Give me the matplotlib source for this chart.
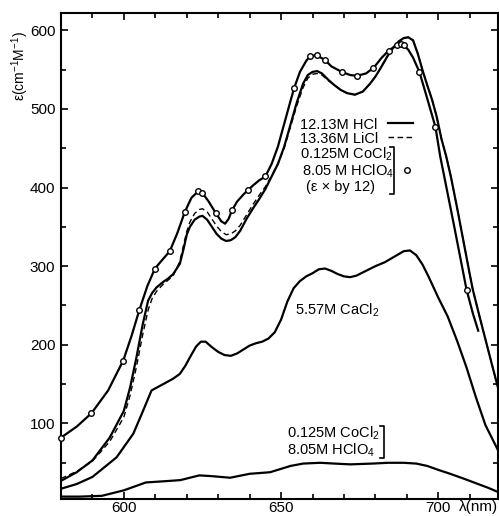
import numpy as np
import matplotlib
matplotlib.use('Agg')
import matplotlib.pyplot as plt
from matplotlib.ticker import MultipleLocator

plt.rcParams['font.family'] = ['Liberation Sans', 'DejaVu Sans']
plt.rcParams['mathtext.fontset'] = 'custom'
plt.rcParams['mathtext.rm'] = 'Liberation Sans'
plt.rcParams['mathtext.it'] = 'Liberation Sans:italic'
plt.rcParams['mathtext.bf'] = 'Liberation Sans:bold'

# 12.13 M HCl (solid)
hcl_x = [580, 585, 590, 595.5, 600, 602, 604, 606, 607.7, 609, 610.4, 612.5, 614, 615.7,
         617.8, 619, 620, 621, 622.5, 624, 625, 626.5, 628, 629.5, 631, 632.5, 634, 635.5,
         637, 639, 641, 643, 645, 647, 649, 651, 653, 655, 657, 658.5, 660, 661.5, 663,
         665, 667, 669, 671, 673.5, 676, 678.3, 680, 681.7, 683.7, 685.5, 687.5, 689,
         690.5, 692, 693.5, 695, 696.5, 698, 699.5, 701, 702.5, 704, 706, 708, 710, 711,
         713, 715, 717, 719.5]
hcl_y = [27, 38, 53, 82, 116, 146, 184, 226, 256, 266, 273, 280, 284, 290,
         303, 322, 340, 350, 359, 363, 364, 359, 350, 341, 335, 332, 333, 337,
         345, 360, 373, 385, 398, 414, 430, 452, 480, 508, 532, 543, 547, 548, 545,
         537, 530, 524, 520, 518, 522, 532, 541, 552, 566, 577, 586, 590,
         591, 587, 570, 549, 530, 512, 490, 462, 440, 414, 374, 332, 290, 270,
         238, 207, 176, 138]

# 13.36 M LiCl (dashed)
licl_x = [580, 585, 590, 595.5, 600, 602, 604, 606, 607.7, 609, 610.4, 612.5, 614, 615.7,
          617.8, 619, 620, 621, 622.5, 624, 625, 626.5, 628, 629.5, 631, 632.5, 634, 635.5,
          637, 639, 641, 643, 645, 647, 649, 651, 653, 655, 657, 658.5, 660, 661.5, 663,
          665, 667, 669, 671, 673.5, 676, 678.3, 680, 681.7, 683.7, 685.5, 687.5, 689,
          690.5, 692, 693.5, 695, 696.5, 698, 699.5, 701, 702.5, 704, 706, 708, 710, 711,
          713, 715, 717, 719.5]
licl_y = [30, 39, 52, 77, 108, 136, 172, 213, 244, 259, 268, 277, 282, 288,
          306, 327, 344, 356, 367, 372, 373, 369, 360, 351, 344, 340, 341, 345,
          352, 365, 378, 390, 401, 415, 430, 450, 477, 504, 527, 539, 544, 545, 543,
          536, 530, 524, 520, 518, 522, 532, 541, 552, 566, 577, 586, 590,
          591, 587, 570, 549, 530, 512, 490, 462, 440, 414, 374, 332, 290, 270,
          238, 207, 176, 138]

# 0.125 M CoCl2 in 8.05 M HClO4, eps x 12 (curve + measured points)
co12_x = [580, 585, 589.7, 595, 599.8, 602.5, 604.9, 607.5, 609.9, 612, 614.6, 617, 619.4,
          621.5, 623.6, 625, 627, 629.3, 631, 632.2, 633.3, 634.4, 636, 638, 639.5, 641.5,
          643, 645, 647, 649, 651, 653, 654.2, 656, 658, 659.2, 661.4, 664, 666, 669.3,
          672, 674.1, 677, 679.4, 682, 684.2, 686.8, 688, 689, 690.5, 692, 694, 696.5,
          699.1, 700.6, 702.5, 705, 707, 709, 711, 712.7]
co12_y = [82, 96, 113, 142, 180, 212, 244, 275, 297, 307, 319, 342, 369,
          387, 395, 393, 382, 367, 357, 354, 360, 371, 382, 391, 397, 404,
          409, 414, 430, 452, 481, 510, 527, 547, 561, 567, 568, 562, 554, 547,
          543, 542, 545, 552, 565, 574, 581, 582, 581, 575, 565, 547, 513,
          477, 440, 402, 352, 311, 270, 240, 218]
pts_x = [580, 589.7, 599.8, 604.9, 609.9, 614.6, 619.4, 623.6, 625, 629.3, 634.4, 639.5,
         645, 654.2, 659.2, 661.4, 664, 669.3, 674.1, 679.4, 684.2, 686.8, 688, 689,
         694, 699.1, 709]
pts_y = [82, 113, 180, 244, 297, 319, 369, 395, 393, 367, 371, 397,
         414, 527, 567, 568, 562, 547, 542, 552, 574, 581, 582, 581,
         547, 477, 270]

# 5.57 M CaCl2
cacl_x = [580, 585, 590, 597.7, 603, 606.1, 608.8, 612.5, 615.7, 617.8, 619.5, 621, 623,
          624.5, 626, 628, 630, 632, 634, 636, 638, 640, 642, 644, 646, 648, 650, 652,
          654, 656, 658, 660, 662, 664, 666, 668, 670, 672, 674, 676, 678, 680, 683, 686,
          689, 691, 693, 695, 697, 700, 703, 706, 709, 712, 715, 719.5]
cacl_y = [17, 23, 32, 57, 87, 116, 142, 150, 157, 163, 173, 184, 198,
          204, 204, 197, 191, 187, 186, 189, 194, 199, 202, 204, 208, 216, 232, 255,
          272, 281, 287, 291, 296, 297, 294, 290, 287, 286, 288, 292, 296, 300, 305, 312,
          319, 320, 314, 302, 286, 260, 236, 205, 171, 133, 98, 62]

# 0.125 M CoCl2 in 8.05 M HClO4 (unscaled)
co_x = [580, 586, 593, 600, 607, 614.6, 618, 624, 628, 633.8, 640, 646.5, 653, 657, 662.4,
        667, 672, 679, 684, 689, 693, 696.5, 700, 703.8, 708, 712, 716, 719.5]
co_y = [7, 7, 8, 15, 25, 27, 28, 34, 33, 31, 36, 38, 46, 49, 50,
        49, 48, 49, 50, 50, 49, 46, 41, 36, 30, 24, 18, 12]

fig = plt.figure(figsize=(4.99, 5.16), dpi=100)
ax = fig.add_axes([0.1222, 0.033, 0.8758, 0.942])

lw = 1.6
ax.plot(hcl_x, hcl_y, color='black', lw=lw)
ax.plot(licl_x, licl_y, color='black', lw=1.0, ls=(0, (4, 2.5)))
ax.plot(co12_x, co12_y, color='black', lw=lw)
ax.plot(pts_x, pts_y, ls='none', marker='o', ms=4, mfc='white', mec='black', mew=1.0,
        clip_on=False, zorder=3)
ax.plot(cacl_x, cacl_y, color='black', lw=lw)
ax.plot(co_x, co_y, color='black', lw=lw)

ax.set_xlim(580, 719)
ax.set_ylim(4, 622)
ax.xaxis.set_major_locator(MultipleLocator(50))
ax.xaxis.set_minor_locator(MultipleLocator(10))
ax.yaxis.set_major_locator(MultipleLocator(100))
ax.yaxis.set_minor_locator(MultipleLocator(50))
ax.tick_params(which='both', direction='in', top=True, right=True, width=1.2,
               labelsize=11, pad=4)
ax.tick_params(axis='x', pad=1.5)
ax.tick_params(which='major', length=5)
ax.tick_params(which='minor', length=3.5)
for s in ax.spines.values():
    s.set_linewidth(1.5)

ax.set_ylabel(r'ε(cm$^{-1}$M$^{-1}$)', fontsize=10)
ax.yaxis.set_label_coords(-0.069, 0.89)
ax.text(0.955, -0.016, 'λ(nm)', transform=ax.transAxes, ha='center', va='center',
        fontsize=11)

# key, upper group
fs = 10.5
ax.text(0.547, 0.770, '12.13M HCl', transform=ax.transAxes, fontsize=fs, va='center')
ax.text(0.547, 0.741, '13.36M LiCl', transform=ax.transAxes, fontsize=fs, va='center')
ax.text(0.547, 0.709, r'0.125M CoCl$_\mathrm{2}$', transform=ax.transAxes, fontsize=fs,
        va='center')
ax.text(0.552, 0.675, r'8.05 M HClO$_\mathrm{4}$', transform=ax.transAxes, fontsize=fs,
        va='center')
ax.text(0.561, 0.641, '(ε × by 12)', transform=ax.transAxes, fontsize=fs, va='center')
ax.plot([0.748, 0.805], [0.774, 0.774], transform=ax.transAxes, color='black', lw=lw)
ax.plot([0.748, 0.805], [0.745, 0.745], transform=ax.transAxes, color='black', lw=1.0,
        ls=(0, (4, 2.5)))
ax.plot([0.792], [0.677], transform=ax.transAxes, marker='o', ms=4, mfc='white',
        mec='black', mew=1.0)


def bracket(x, y0, y1, h=0.009):
    ax.plot([x - h, x, x, x - h], [y0, y0, y1, y1], transform=ax.transAxes,
            color='black', lw=1.2)


bracket(0.763, 0.628, 0.724)

ax.text(0.535, 0.389, r'5.57M CaCl$_\mathrm{2}$', transform=ax.transAxes, fontsize=fs,
        va='center')
ax.text(0.517, 0.135, r'0.125M CoCl$_\mathrm{2}$', transform=ax.transAxes, fontsize=fs,
        va='center')
ax.text(0.517, 0.100, r'8.05M HClO$_\mathrm{4}$', transform=ax.transAxes, fontsize=fs,
        va='center')
bracket(0.740, 0.084, 0.150)

fig.savefig('out.png', dpi=100)
